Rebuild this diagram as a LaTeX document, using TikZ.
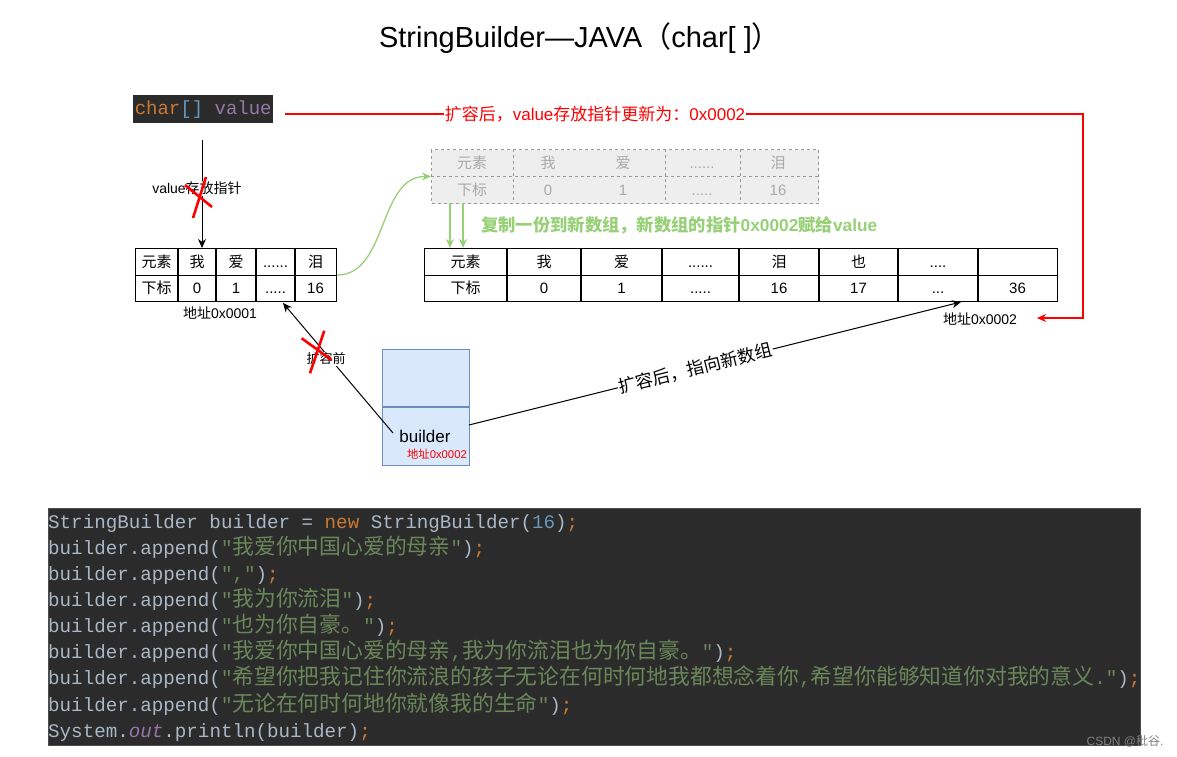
\documentclass[tikz,border=0pt]{standalone}
\usepackage{fontspec}
\setmainfont{Liberation Sans}
\setmonofont{Liberation Mono}
\newfontfamily\cjk{Noto Sans CJK SC}
\usetikzlibrary{arrows.meta}
\definecolor{codebg}{HTML}{2B2B2B}
\definecolor{codefg}{HTML}{A9B7C6}
\definecolor{kwc}{HTML}{CC7832}
\definecolor{numc}{HTML}{6897BB}
\definecolor{strc}{HTML}{6A8759}
\definecolor{purc}{HTML}{9876AA}
\definecolor{gline}{HTML}{97D077}
\definecolor{dfill}{HTML}{EEEEEE}
\definecolor{dline}{HTML}{999999}
\definecolor{dtext}{HTML}{AAAAAA}
\definecolor{bfill}{HTML}{DAE8FC}
\definecolor{bline}{HTML}{6C8EBF}
\definecolor{rline}{HTML}{FF0000}
\newcommand\zh[1]{{\cjk #1}}
\newcommand\sz[1]{\fontsize{#1pt}{#1pt}\selectfont}
\newcommand\cz[1]{{\cjk\fontsize{21.8pt}{24pt}\selectfont #1}}
\newcommand\kw[1]{{\color{kwc}#1}}
\newcommand\str[1]{{\color{strc}#1}}
\tikzset{
  tblframe/.style={draw, line width=1.2pt, inner sep=0pt, anchor=north west},
  cell/.style={inner sep=0pt, anchor=base, font=\sz{15}},
  dcell/.style={inner sep=0pt, anchor=base, font=\sz{15}, text=dtext},
  lbl/.style={inner sep=1pt, font=\sz{14}, fill=white},
  barrow/.style={draw=black, line width=1pt, -{Stealth[length=9pt,width=8pt]}},
  rarrow/.style={draw=rline, line width=1.2pt, -{Stealth[length=9pt,width=8pt]}},
  garrow/.style={draw=gline, line width=1.3pt, -{Stealth[length=9pt,width=8pt]}},
  xmark/.style={draw=rline, line width=2.6pt},
  codeline/.style={inner sep=0pt, anchor=base west, text=codefg, font=\ttfamily\sz{19.2}},
}
\begin{document}
\begin{tikzpicture}[x=1pt,y=-1pt]
\useasboundingbox (0,0) rectangle (1177,757);
\fill[white] (0,0) rectangle (1177,757);

% title
\node[inner sep=0pt, font=\sz{29}] (title) at (580,38) {StringBuilder—JAVA\zh{（}char[ ]\zh{）}};

% char[] value
\node[fill=codebg, inner sep=0pt, minimum width=140pt, minimum height=28pt, anchor=north west,
      font=\ttfamily\sz{19}] (cv) at (133,95)
  {{\color{kwc}char}{\color{numc}[]} {\color{purc}value}};

% dashed old table
\node[tblframe, draw=dline, fill=dfill, dashed, line width=1pt, minimum width=387pt, minimum height=54pt] (t0) at (431,149) {};
\draw[draw=dline, dashed, line width=1pt] (t0.west) -- (t0.east);
\foreach \x in {513,665,740} \draw[draw=dline, dashed, line width=1pt] (\x,149) -- (\x,203);
\node[dcell] (t0a1) at (472,168) {\zh{元素}};
\node[dcell] (t0a2) at (548,168) {\zh{我}};
\node[dcell] (t0a3) at (623,168) {\zh{爱}};
\node[dcell] (t0a4) at (702,168) {......};
\node[dcell] (t0a5) at (778,168) {\zh{泪}};
\node[dcell] (t0b1) at (472,195) {\zh{下标}};
\node[dcell] (t0b2) at (548,195) {0};
\node[dcell] (t0b3) at (623,195) {1};
\node[dcell] (t0b4) at (702,195) {.....};
\node[dcell] (t0b5) at (778,195) {16};

% table 1
\node[tblframe, minimum width=201pt, minimum height=53pt] (t1) at (135,248) {};
\draw[line width=1.2pt] (t1.west) -- (t1.east);
\foreach \x in {178,216,256,295} \draw[line width=1.2pt] (\x,248) -- (\x,301);
\node[cell] (t1a1) at (156.5,267) {\zh{元素}};
\node[cell] (t1a2) at (197,267) {\zh{我}};
\node[cell] (t1a3) at (236,267) {\zh{爱}};
\node[cell] (t1a4) at (275.5,267) {......};
\node[cell] (t1a5) at (315.5,267) {\zh{泪}};
\node[cell] (t1b1) at (156.5,293.5) {\zh{下标}};
\node[cell] (t1b2) at (197,293.5) {0};
\node[cell] (t1b3) at (236,293.5) {1};
\node[cell] (t1b4) at (275.5,293.5) {.....};
\node[cell] (t1b5) at (315.5,293.5) {16};
\node[inner sep=0pt, font=\sz{14}] (ad1) at (220,313) {\zh{地址}0x0001};

% table 2
\node[tblframe, minimum width=633pt, minimum height=53pt] (t2) at (424,248) {};
\draw[line width=1.2pt] (t2.west) -- (t2.east);
\foreach \x in {507,581,662,739,819,898,978} \draw[line width=1.2pt] (\x,248) -- (\x,301);
\node[cell] (t2a1) at (465.5,267) {\zh{元素}};
\node[cell] (t2a2) at (544,267) {\zh{我}};
\node[cell] (t2a3) at (621.5,267) {\zh{爱}};
\node[cell] (t2a4) at (700.5,267) {......};
\node[cell] (t2a5) at (779,267) {\zh{泪}};
\node[cell] (t2a6) at (858.5,267) {\zh{也}};
\node[cell] (t2a7) at (938,267) {....};
\node[cell] (t2b1) at (465.5,293.5) {\zh{下标}};
\node[cell] (t2b2) at (544,293.5) {0};
\node[cell] (t2b3) at (621.5,293.5) {1};
\node[cell] (t2b4) at (700.5,293.5) {.....};
\node[cell] (t2b5) at (779,293.5) {16};
\node[cell] (t2b6) at (858.5,293.5) {17};
\node[cell] (t2b7) at (938,293.5) {...};
\node[cell] (t2b8) at (1017.5,293.5) {36};
\node[inner sep=0pt, font=\sz{14}] (ad2) at (980,319) {\zh{地址}0x0002};

% builder box
\node[draw=bline, fill=bfill, line width=1.2pt, inner sep=0pt, minimum width=87pt, minimum height=116pt, anchor=north west] (bld) at (382,349) {};
\draw[draw=bline, line width=1.2pt] (382,407) -- (469,407);
\node[inner sep=0pt, font=\sz{17}] (btxt) at (425,436) {builder};
\node[inner sep=0pt, font=\sz{11.3}, text=rline] (baddr) at (437,454) {\zh{地址}0x0002};

% red pointer update path
\coordinate (rs) at (285,114);
\coordinate (rc) at (1083,114);
\coordinate (rd) at (1083,318);
\coordinate (re) at (1037,318);
\draw[rarrow] (rs) -- (rc) -- (rd) -- (re);
\node[inner sep=1pt, fill=white, text=rline, font=\sz{17}] (rlbl) at (595,114) {\zh{扩容后，}value\zh{存放指针更新为：}0x0002};

% value pointer arrow
\coordinate (vs) at (202,140);
\draw[barrow] (vs) -- (vs |- t1.north);
\node[lbl] (vlbl) at (197,188.5) {value\zh{存放指针}};
\draw[xmark] (185,185) -- (212,207);
\draw[xmark] (206,177) -- (193,218);

% green copy arrows
\draw[garrow] (t1.east) .. controls (388,274.5) and (378,176) .. (t0.west);
\coordinate (g1) at (450,203);
\coordinate (g2) at (463,203);
\draw[garrow] (g1) -- (g1 |- t2.north);
\draw[garrow] (g2) -- (g2 |- t2.north);
\node[inner sep=0pt, anchor=west, text=gline, font=\bfseries\sz{17.3}] (glbl) at (481,225)
  {{\cjk\bfseries 复制一份到新数组，新数组的指针}0x0002{\cjk\bfseries 赋给}value};

% builder -> old table
\coordinate (b1) at (393,433);
\coordinate (e1) at (283,303);
\draw[barrow] (b1) -- (e1);
\node[lbl, font=\sz{13}] (qlbl) at (326,359) {\zh{扩容前}};
\draw[xmark] (301.7,338.3) -- (331.7,360);
\draw[xmark] (324.3,330.7) -- (310,373.3);

% builder -> new table
\coordinate (b2) at (469,425);
\coordinate (e2) at (961,302);
\draw[barrow] (b2) -- (e2) node[pos=0.46, sloped, fill=white, inner sep=1pt, font=\sz{17.5}] (hlbl) {\zh{扩容后，指向新数组}};

% code block
\node[fill=codebg, draw=gray!60!black, line width=0.6pt, inner sep=0pt, minimum width=1092pt, minimum height=237pt, anchor=north west] (code) at (48,508) {};
\node[codeline] (c1) at (48,528) {StringBuilder builder = \kw{new} StringBuilder(\textcolor{numc}{16})\kw{;}};
\node[codeline] (c2) at (48,554) {builder.append(\str{"\cz{我爱你中国心爱的母亲}"})\kw{;}};
\node[codeline] (c3) at (48,580) {builder.append(\str{","})\kw{;}};
\node[codeline] (c4) at (48,606) {builder.append(\str{"\cz{我为你流泪}"})\kw{;}};
\node[codeline] (c5) at (48,632) {builder.append(\str{"\cz{也为你自豪。}"})\kw{;}};
\node[codeline] (c6) at (48,658) {builder.append(\str{"\cz{我爱你中国心爱的母亲},\cz{我为你流泪也为你自豪。}"})\kw{;}};
\node[codeline] (c7) at (48,684) {builder.append(\str{"\cz{希望你把我记住你流浪的孩子无论在何时何地我都想念着你},\cz{希望你能够知道你对我的意义}."})\kw{;}};
\node[codeline] (c8) at (48,711) {builder.append(\str{"\cz{无论在何时何地你就像我的生命}"})\kw{;}};
\node[codeline] (c9) at (48,737) {System.{\color{purc}\itshape out}.println(builder)\kw{;}};

% watermark
\node[inner sep=0pt, text=gray, font=\sz{12}] (wm) at (1125,741) {CSDN @\zh{秕谷}.};
\end{tikzpicture}
\end{document}
